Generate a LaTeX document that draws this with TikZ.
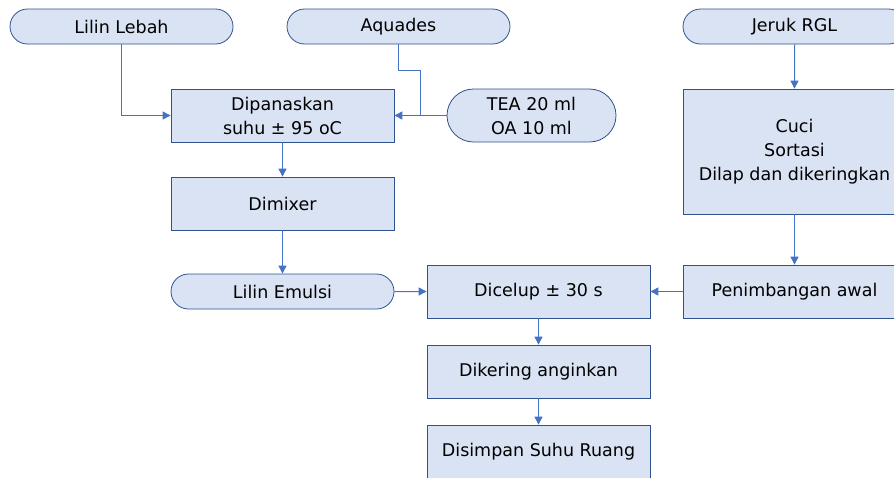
\documentclass[tikz,border=0pt]{standalone}
\usepackage{fontspec}
\setmainfont{DejaVu Sans}
\usepackage{tikz}
\definecolor{boxfill}{HTML}{DAE3F3}
\definecolor{boxline}{HTML}{2F528F}
\definecolor{arrowblue}{HTML}{4472C4}
\usetikzlibrary{shapes.misc, arrows.meta, calc}

\begin{document}
\begin{tikzpicture}[x=1pt, y=-1pt, node distance=88pt,
	every node/.style={font=\fontsize{17.5}{24}\selectfont, align=center, inner sep=0pt},
	pill/.style={draw=boxline, fill=boxfill, rounded rectangle, minimum width=223pt, minimum height=35pt, line width=0.8pt},
	stepbox/.style={draw=boxline, fill=boxfill, rectangle, minimum width=223pt, minimum height=53pt, line width=0.8pt},
	arr/.style={-{Triangle[length=8pt, width=8pt]}, draw=arrowblue, line width=1pt},
	plain/.style={draw=arrowblue, line width=1pt}]
	\clip (0,0) rectangle (894,477);
	
	\node[pill] (lebah) at (121.5,26.5) {Lilin Lebah};
	
	\node[pill] (aquades) at (398.5,26.5) {Aquades};
	
	\node[pill] (jeruk) at (794.5,26.5) {Jeruk RGL};
	
	\node[stepbox] (panas) at (282.5,115.5) {Dipanaskan\\suhu ± 95 oC};
	
	\node[pill, right of= panas, xshift=161pt, minimum width=169pt, minimum height=53pt] (tea) {TEA 20 ml\\OA 10 ml};
	
	\node[stepbox, below of= panas] (mixer) {Dimixer};
	
	\node[pill, below of= mixer] (emulsi) {Lilin Emulsi};
	
	\node[stepbox, right of= emulsi, xshift=168pt] (celup) {Dicelup ± 30 s};
	
	\node[stepbox, right of= celup, xshift=168pt] (timbang) {Penimbangan awal};
	
	\node[stepbox, below of= jeruk, yshift=-37pt, minimum height=125pt] (cuci) {Cuci\\Sortasi\\Dilap dan dikeringkan};
	
	\node[stepbox, below of= celup, yshift=8pt] (kering) {Dikering anginkan};
	
	\node[stepbox, below of= kering, yshift=8pt] (simpan) {Disimpan Suhu Ruang};
	
	\coordinate (join) at ($(panas.east)!0.5!(tea.west)$);
	
	\draw[arr] (lebah.south) |- (panas.west);
	
	\draw[plain] (aquades.south) -- ++(0,26.5) -| (join);
	
	\draw[arr] (tea) -- (panas);
	
	\draw[arr] (panas) -- (mixer);
	
	\draw[arr] (mixer) -- (emulsi);
	
	\draw[arr] (emulsi) -- (celup);
	
	\draw[arr] (jeruk) -- (cuci);
	
	\draw[arr] (cuci) -- (timbang);
	
	\draw[arr] (timbang) -- (celup);
	
	\draw[arr] (celup) -- (kering);
	
	\draw[arr] (kering) -- (simpan);
\end{tikzpicture}
\end{document}
